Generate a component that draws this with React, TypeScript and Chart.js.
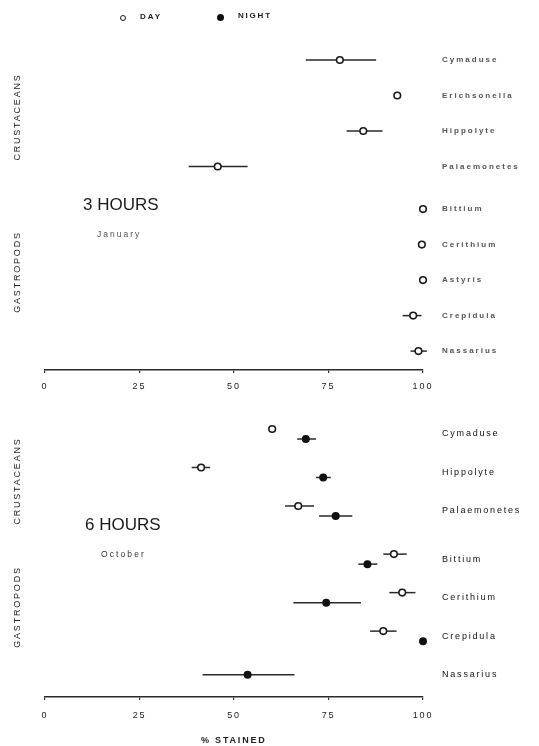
import React, { useEffect, useRef } from 'react';
import { Chart, registerables } from 'chart.js';

Chart.register(...registerables);

// ---------- DATA ----------
const xTickValues = [0, 25, 50, 75, 100];

// 3 HOURS, January
const topSpecies = ['Cymaduse', 'Erichsonella', 'Hippolyte', 'Palaemonetes', 'Bittium', 'Cerithium', 'Astyris', 'Crepidula', 'Nassarius'];
const topCrustaceanCount = 4;
const topDay = [78, 93.2, 84.2, 45.7, 100, 99.7, 100, 97.4, 98.8];
const topDayLow = [69, null, 79.8, 38, null, null, null, 94.6, 96.7];
const topDayHigh = [87.6, null, 89.3, 53.6, null, null, null, 99.6, 101];

// 6 HOURS, October
const bottomSpecies = ['Cymaduse', 'Hippolyte', 'Palaemonetes', 'Bittium', 'Cerithium', 'Crepidula', 'Nassarius'];
const bottomCrustaceanCount = 3;
const bottomDay = [60.1, 41.3, 67, 92.3, 94.5, 89.5, null];
const bottomDayLow = [null, 38.8, 63.5, 89.5, 91.1, 86, null];
const bottomDayHigh = [null, 43.7, 71.2, 95.7, 98, 93, null];
const bottomNight = [69, 73.6, 76.9, 85.3, 74.4, 100, 53.6];
const bottomNightLow = [66.7, 71.7, 72.5, 82.9, 65.7, null, 41.7];
const bottomNightHigh = [71.7, 75.6, 81.3, 87.9, 83.6, null, 66];

// ---------- STYLE ----------
const FONT = '"Liberation Sans", Arial, Helvetica, sans-serif';
const INK = '#1a1a1a';

const errorBarPlugin = {
  id: 'errorBars',
  beforeDatasetsDraw(chart: any) {
    const { ctx, scales } = chart;
    const x = scales.x;
    const y = scales.y;
    ctx.save();
    ctx.strokeStyle = '#2a2a2a';
    ctx.lineWidth = 1.5;
    chart.data.datasets.forEach((ds: any) => {
      ds.data.forEach((p: any) => {
        if (p.lo == null || p.hi == null) return;
        const py = y.getPixelForValue(p.y);
        ctx.beginPath();
        ctx.moveTo(x.getPixelForValue(p.lo), py);
        ctx.lineTo(x.getPixelForValue(p.hi), py);
        ctx.stroke();
      });
    });
    ctx.restore();
  },
};

const spacingPlugin = {
  id: 'spacing',
  beforeDraw(chart: any, _args: any, opts: any) {
    (chart.ctx as any).letterSpacing = (opts && opts.value) || '0px';
  },
};

function rowPos(i: number, crustCount: number, gap: number) {
  return i + (i >= crustCount ? gap : 0);
}

type PanelSpec = {
  species: string[];
  crustCount: number;
  gap: number;
  day: (number | null)[];
  dayLow: (number | null)[];
  dayHigh: (number | null)[];
  night: (number | null)[];
  nightLow: (number | null)[];
  nightHigh: (number | null)[];
  pairOffset: number;
  yMin: number;
  yMax: number;
  padTop: number;
  axisHeight: number;
  tickPadding: number;
  labelSize: number;
  labelWeight: string;
  labelColor: string;
  spacing: string;
  height: number;
};

function buildConfig(s: PanelSpec): any {
  const rows = s.species.map((_, i) => rowPos(i, s.crustCount, s.gap));
  const dayPts: any[] = [];
  const nightPts: any[] = [];
  s.species.forEach((_, i) => {
    const hasDay = s.day[i] != null;
    const hasNight = s.night[i] != null;
    const both = hasDay && hasNight;
    if (hasDay) dayPts.push({ x: s.day[i], y: rows[i] - (both ? s.pairOffset : 0), lo: s.dayLow[i], hi: s.dayHigh[i] });
    if (hasNight) nightPts.push({ x: s.night[i], y: rows[i] + (both ? s.pairOffset : 0), lo: s.nightLow[i], hi: s.nightHigh[i] });
  });
  return {
    type: 'scatter',
    data: {
      datasets: [
        {
          label: 'DAY',
          data: dayPts,
          pointRadius: 3.3,
          pointBackgroundColor: '#ffffff',
          pointBorderColor: INK,
          pointBorderWidth: 1.6,
        },
        {
          label: 'NIGHT',
          data: nightPts,
          pointRadius: 4,
          pointBackgroundColor: '#111111',
          pointBorderColor: '#111111',
          pointBorderWidth: 0,
        },
      ],
    },
    plugins: [spacingPlugin, errorBarPlugin],
    options: {
      animation: false,
      responsive: false,
      devicePixelRatio: 1,
      clip: false,
      layout: { padding: { top: s.padTop, left: 45, right: 0, bottom: 0 } },
      plugins: {
        legend: { display: false },
        tooltip: { enabled: false },
        spacing: { value: s.spacing },
      },
      scales: {
        x: {
          type: 'linear',
          position: 'bottom',
          min: 0,
          max: 100,
          afterBuildTicks: (sc: any) => {
            sc.ticks = xTickValues.map((v) => ({ value: v }));
          },
          afterFit: (sc: any) => {
            sc.height = s.axisHeight;
            sc.paddingLeft = 0;
            sc.paddingRight = 0;
          },
          ticks: {
            color: '#222',
            font: { family: FONT, size: 9 },
            padding: s.tickPadding,
            maxRotation: 0,
            autoSkip: false,
          },
          grid: {
            drawOnChartArea: false,
            drawTicks: true,
            tickLength: 3,
            color: '#333',
            lineWidth: 1.2,
          },
          border: { display: true, color: '#2a2a2a', width: 1.6 },
        },
        y: {
          type: 'linear',
          position: 'right',
          reverse: true,
          min: s.yMin,
          max: s.yMax,
          afterBuildTicks: (sc: any) => {
            sc.ticks = rows.map((v) => ({ value: v }));
          },
          afterFit: (sc: any) => {
            sc.width = 116;
            sc.paddingTop = 0;
            sc.paddingBottom = 0;
          },
          ticks: {
            autoSkip: false,
            color: s.labelColor,
            font: { family: FONT, size: s.labelSize, weight: s.labelWeight },
            padding: 19,
            callback: (_v: any, i: number) => s.species[i],
          },
          grid: { display: false, drawTicks: false },
          border: { display: false },
        },
      },
    },
  };
}

const topSpec: PanelSpec = {
  species: topSpecies,
  crustCount: topCrustaceanCount,
  gap: 0.2,
  day: topDay,
  dayLow: topDayLow,
  dayHigh: topDayHigh,
  night: topSpecies.map(() => null),
  nightLow: topSpecies.map(() => null),
  nightHigh: topSpecies.map(() => null),
  pairOffset: 0,
  yMin: -0.5634,
  yMax: 8.732,
  padTop: 40,
  axisHeight: 30,
  tickPadding: 8,
  labelSize: 8,
  labelWeight: 'bold',
  labelColor: '#555',
  spacing: '2px',
  height: 400,
};

const bottomSpec: PanelSpec = {
  species: bottomSpecies,
  crustCount: bottomCrustaceanCount,
  gap: 0.25,
  day: bottomDay,
  dayLow: bottomDayLow,
  dayHigh: bottomDayHigh,
  night: bottomNight,
  nightLow: bottomNightLow,
  nightHigh: bottomNightHigh,
  pairOffset: 0.13,
  yMin: -0.883,
  yMax: 6.831,
  padTop: 10,
  axisHeight: 49,
  tickPadding: 10,
  labelSize: 9,
  labelWeight: 'normal',
  labelColor: '#111',
  spacing: '1.8px',
  height: 356,
};

function Panel({ spec, top }: { spec: PanelSpec; top: number }) {
  const ref = useRef<HTMLCanvasElement>(null);
  useEffect(() => {
    const chart = new Chart(ref.current as HTMLCanvasElement, buildConfig(spec));
    return () => chart.destroy();
  }, []);
  return (
    <canvas
      ref={ref}
      width={539}
      height={spec.height}
      style={{ position: 'absolute', left: 0, top, width: 539, height: spec.height }}
    />
  );
}

function Text({ x, y, size, children, spacing = 0, color = INK, weight = 'normal' }: any) {
  return (
    <div
      style={{
        position: 'absolute',
        left: x,
        top: y,
        fontFamily: FONT,
        fontSize: size,
        lineHeight: 1,
        letterSpacing: spacing,
        color,
        fontWeight: weight,
        whiteSpace: 'nowrap',
      }}
    >
      {children}
    </div>
  );
}

function VText({ cx, cy, children }: any) {
  return (
    <div
      style={{
        position: 'absolute',
        left: cx,
        top: cy,
        transform: 'translate(-50%, -50%) rotate(-90deg)',
        fontFamily: FONT,
        fontSize: 9,
        lineHeight: 1,
        letterSpacing: 1.8,
        color: '#222',
        whiteSpace: 'nowrap',
      }}
    >
      {children}
    </div>
  );
}

export default function App() {
  return (
    <div style={{ position: 'absolute', left: 0, top: 0, width: 539, height: 746, background: '#fff', overflow: 'hidden' }}>
      <Panel spec={topSpec} top={0} />
      <Panel spec={bottomSpec} top={390} />

      {/* legend */}
      <div style={{ position: 'absolute', left: 119.5, top: 14.5, width: 4, height: 4, border: `1.6px solid ${INK}`, borderRadius: '50%', background: '#fff' }} />
      <Text x={140} y={13} size={8} spacing={2} weight="bold">DAY</Text>
      <div style={{ position: 'absolute', left: 217, top: 13.5, width: 7, height: 7, borderRadius: '50%', background: '#111' }} />
      <Text x={238} y={11.5} size={8} spacing={1.8} weight="bold">NIGHT</Text>

      {/* group labels */}
      <VText cx={17} cy={117}>CRUSTACEANS</VText>
      <VText cx={17} cy={272}>GASTROPODS</VText>
      <VText cx={17} cy={481}>CRUSTACEANS</VText>
      <VText cx={17} cy={607}>GASTROPODS</VText>

      {/* panel titles */}
      <Text x={83} y={196} size={17}>3 HOURS</Text>
      <Text x={97} y={230} size={8.5} spacing={2} color="#555">January</Text>
      <Text x={85} y={516} size={17}>6 HOURS</Text>
      <Text x={101} y={549.5} size={8.5} spacing={2.1} color="#333">October</Text>

      <Text x={201} y={735.5} size={9} spacing={1.8} weight="bold" color="#222">% STAINED</Text>
    </div>
  );
}
